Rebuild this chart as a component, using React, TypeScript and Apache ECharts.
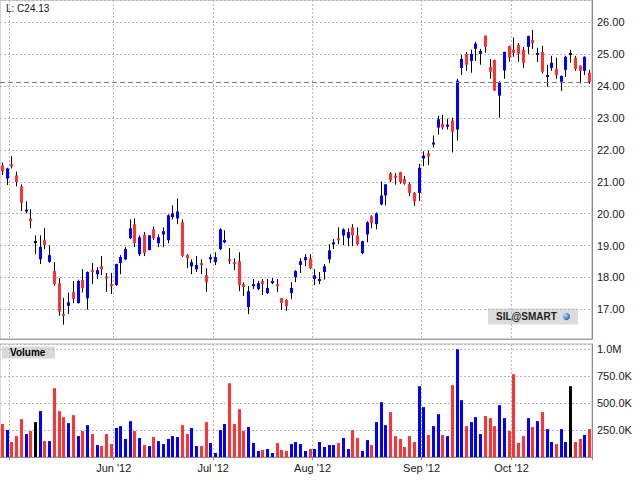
import React, { useEffect, useRef } from "react";
import * as echarts from "echarts";

// Trading days per month (Apr 27 2012 – Oct 23 2012)
const MONTH_DAYS: [string, number[]][] = [
  ["2012-04", [27, 30]],
  ["2012-05", [1, 2, 3, 4, 7, 8, 9, 10, 11, 14, 15, 16, 17, 18, 21, 22, 23, 24, 25, 29, 30, 31]],
  ["2012-06", [1, 4, 5, 6, 7, 8, 11, 12, 13, 14, 15, 18, 19, 20, 21, 22, 25, 26, 27, 28, 29]],
  ["2012-07", [2, 3, 5, 6, 9, 10, 11, 12, 13, 16, 17, 18, 19, 20, 23, 24, 25, 26, 27, 30, 31]],
  ["2012-08", [1, 2, 3, 6, 7, 8, 9, 10, 13, 14, 15, 16, 17, 20, 21, 22, 23, 24, 27, 28, 29, 30, 31]],
  ["2012-09", [4, 5, 6, 7, 10, 11, 12, 13, 14, 17, 18, 19, 20, 21, 24, 25, 26, 27, 28]],
  ["2012-10", [1, 2, 3, 4, 5, 8, 9, 10, 11, 12, 15, 16, 17, 18, 19, 22, 23]],
];

const OPEN = [
  21.51, 21.10, 21.55, 21.20, 20.86, 20.07, 19.85, 19.11, 18.57, 19.17,
  18.49, 18.20, 17.82, 16.86, 17.11, 17.54, 17.20, 17.92, 17.35, 18.23,
  18.10, 18.35, 18.03, 17.79, 17.76, 18.45, 18.57, 19.23, 19.67, 18.73,
  19.34, 18.86, 19.51, 19.07, 19.35, 19.17, 19.89, 19.85, 19.73, 18.70,
  18.35, 18.26, 18.45, 18.07, 18.57, 18.48, 18.89, 19.10, 18.57, 18.48,
  18.51, 17.79, 17.07, 17.73, 17.64, 17.89, 17.51, 17.82, 17.79, 17.35,
  17.29, 17.51, 18.01, 18.39, 18.54, 18.60, 17.95, 17.89, 18.17, 18.57,
  19.04, 19.23, 19.32, 19.23, 19.57, 19.32, 18.76, 19.35, 19.92, 19.67,
  20.29, 20.57, 21.27, 21.19, 21.30, 21.09, 20.93, 20.65, 20.65, 21.73,
  21.89, 22.17, 22.70, 22.82, 22.73, 22.92, 22.64, 24.57, 25.01, 24.79,
  25.17, 25.01, 25.58, 24.60, 24.82, 23.70, 24.49, 25.26, 25.14, 25.29,
  25.14, 25.23, 25.45, 24.98, 25.07, 24.29, 24.57, 24.54, 24.14, 24.51,
  25.01, 24.89, 24.64, 24.48, 24.42,
];
const HIGH = [
  21.60, 21.44, 21.80, 21.32, 20.92, 20.39, 20.14, 19.32, 19.32, 19.54,
  19.01, 18.48, 17.98, 17.36, 17.53, 17.89, 17.93, 18.26, 18.19, 18.45,
  18.32, 18.67, 18.14, 18.14, 18.43, 18.70, 18.95, 19.82, 19.85, 19.32,
  19.42, 19.33, 19.60, 19.35, 19.57, 19.98, 20.26, 20.48, 19.82, 18.73,
  18.57, 18.67, 18.57, 18.29, 18.73, 18.79, 19.54, 19.48, 18.92, 18.60,
  18.79, 17.85, 17.73, 17.95, 17.89, 17.95, 17.95, 17.98, 17.95, 17.36,
  17.32, 17.85, 18.23, 18.60, 18.73, 18.73, 18.26, 18.17, 18.42, 19.04,
  19.20, 19.57, 19.54, 19.54, 19.67, 19.57, 19.15, 19.76, 19.95, 20.04,
  21.01, 20.93, 21.30, 21.27, 21.31, 21.18, 20.99, 20.68, 21.56, 21.96,
  21.98, 22.45, 23.07, 23.10, 22.98, 23.01, 24.23, 24.98, 25.07, 25.14,
  25.39, 25.17, 25.59, 24.85, 24.83, 24.15, 25.08, 25.27, 25.52, 25.35,
  25.23, 25.58, 25.76, 25.20, 25.26, 24.67, 24.95, 24.89, 24.33, 24.95,
  25.14, 24.95, 24.65, 24.93, 24.51,
];
const LOW = [
  21.21, 20.90, 21.42, 20.86, 20.08, 20.01, 19.54, 18.73, 18.42, 18.89,
  18.46, 17.74, 16.80, 16.52, 16.85, 17.20, 17.18, 17.53, 16.99, 17.79,
  17.95, 18.07, 17.55, 17.48, 17.74, 18.10, 18.54, 19.20, 18.95, 18.67,
  18.67, 18.85, 19.17, 18.95, 18.95, 19.07, 19.82, 19.67, 18.64, 18.29,
  18.10, 18.17, 18.10, 17.55, 18.45, 18.39, 18.85, 19.07, 18.42, 18.23,
  17.57, 17.42, 16.85, 17.64, 17.60, 17.45, 17.48, 17.79, 17.54, 16.98,
  16.95, 17.32, 17.85, 18.14, 18.35, 18.26, 17.76, 17.79, 17.93, 18.45,
  18.89, 19.04, 19.01, 18.98, 18.98, 19.01, 18.73, 19.10, 19.54, 19.51,
  20.26, 20.26, 20.99, 20.91, 20.94, 20.91, 20.55, 20.24, 20.40, 21.49,
  21.52, 22.07, 22.48, 22.64, 22.64, 21.92, 22.29, 24.35, 24.48, 24.42,
  24.79, 24.67, 25.05, 24.23, 23.85, 23.01, 24.23, 24.76, 24.92, 24.76,
  24.57, 25.01, 25.17, 24.76, 24.39, 23.98, 24.48, 24.23, 23.85, 24.29,
  24.73, 24.48, 24.08, 24.35, 24.07,
];
const CLOSE = [
  21.33, 21.42, 21.48, 20.99, 20.34, 20.13, 19.76, 19.11, 18.96, 19.02,
  18.70, 17.79, 16.93, 16.80, 17.22, 17.33, 17.89, 17.67, 18.17, 18.17,
  18.23, 18.26, 17.97, 17.73, 18.42, 18.64, 18.89, 19.54, 19.08, 19.26,
  18.76, 19.32, 19.23, 19.26, 19.45, 19.95, 20.01, 20.07, 18.68, 18.60,
  18.48, 18.39, 18.39, 17.85, 18.64, 18.64, 19.51, 19.17, 18.51, 18.42,
  17.76, 17.70, 17.57, 17.79, 17.82, 17.79, 17.67, 17.89, 17.73, 17.20,
  17.10, 17.67, 18.20, 18.51, 18.64, 18.29, 18.07, 17.95, 18.35, 18.85,
  19.10, 19.17, 19.51, 19.42, 19.32, 19.04, 19.14, 19.73, 19.70, 20.01,
  20.57, 20.92, 21.04, 21.13, 20.99, 20.94, 20.65, 20.38, 21.44, 21.82,
  21.79, 22.23, 22.96, 22.70, 22.79, 22.57, 24.17, 24.85, 24.67, 25.01,
  25.33, 25.10, 25.23, 24.45, 23.86, 24.11, 25.07, 24.90, 25.04, 25.01,
  24.73, 25.57, 25.35, 25.04, 24.45, 24.35, 24.73, 24.35, 24.32, 24.92,
  25.01, 24.54, 24.48, 24.92, 24.13,
];
const VOLUME = [
  306000, 250000, 139000, 194000, 352000, 213000, 241000, 324000, 426000, 148000,
  148000, 639000, 426000, 370000, 315000, 389000, 194000, 241000, 296000, 213000,
  111000, 102000, 213000, 120000, 269000, 287000, 167000, 333000, 241000, 176000,
  111000, 102000, 185000, 148000, 120000, 167000, 194000, 185000, 296000, 213000,
  269000, 102000, 102000, 324000, 130000, 37000, 250000, 306000, 685000, 306000,
  444000, 241000, 278000, 130000, 56000, 65000, 74000, 37000, 130000, 65000,
  56000, 120000, 139000, 120000, 56000, 74000, 74000, 139000, 93000, 111000,
  111000, 130000, 176000, 74000, 250000, 176000, 56000, 157000, 111000, 324000,
  509000, 296000, 417000, 194000, 167000, 93000, 194000, 139000, 657000, 463000,
  204000, 287000, 398000, 204000, 194000, 667000, 1000000, 528000, 287000, 324000,
  370000, 213000, 380000, 361000, 287000, 481000, 361000, 241000, 769000, 130000,
  194000, 361000, 278000, 333000, 417000, 259000, 139000, 120000, 259000, 139000,
  657000, 139000, 167000, 204000, 259000,
];

const LAST_PRICE = 24.13;
const PRICE_TICKS = [17, 18, 19, 20, 21, 22, 23, 24, 25, 26];
const MONTH_NAMES = ["Jan", "Feb", "Mar", "Apr", "May", "Jun", "Jul", "Aug", "Sep", "Oct", "Nov", "Dec"];
const LABELED_MONTHS = ["2012-06", "2012-07", "2012-08", "2012-09", "2012-10"];

const DATES: string[] = [];
MONTH_DAYS.forEach(([m, days]) => days.forEach((d) => DATES.push(`${m}-${String(d).padStart(2, "0")}`)));

const BLUE = "#0000ff";
const RED = "#ff3333";
const BLACK = "#000000";

const colorOf = (i: number) => (CLOSE[i] > OPEN[i] ? BLUE : CLOSE[i] < OPEN[i] ? RED : BLACK);

const isMonthStart = (index: number) => index > 0 && DATES[index].slice(0, 7) !== DATES[index - 1].slice(0, 7);
const isLabeled = (index: number) => isMonthStart(index) && LABELED_MONTHS.includes(DATES[index].slice(0, 7));

const FONT = "'Liberation Sans', Arial, sans-serif";

export default function App() {
  const ref = useRef<HTMLDivElement>(null);
  useEffect(() => {
    if (!ref.current) return;
    const chart = echarts.init(ref.current, undefined, { renderer: "svg" });
    const candleData = DATES.map((_, i) => [i, OPEN[i], CLOSE[i], LOW[i], HIGH[i]]);
    const volData = DATES.map((_, i) => [i, VOLUME[i]]);
    const gridLine = { show: true, lineStyle: { color: "#b8b8b8", type: [2, 2] as number[], width: 1 } };
    const axisLineRight = { show: true, lineStyle: { color: "#8c8c8c", width: 1 } };

    const option: any = {
      animation: false,
      backgroundColor: "#ffffff",
      textStyle: { fontFamily: FONT },
      grid: [
        { left: 0, top: 0, width: 592, height: 339, show: true, borderColor: "#a8a8a8", borderWidth: 1 },
        { left: 0, top: 344, width: 592, height: 113, show: true, borderColor: "#b8b8b8", borderWidth: 1 },
      ],
      xAxis: [
        {
          type: "category",
          gridIndex: 0,
          data: DATES,
          boundaryGap: true,
          axisLine: { show: true, lineStyle: { color: "#a0a0a0" } },
          axisTick: { show: false },
          axisLabel: { show: false },
          splitLine: { ...gridLine, interval: (i: number) => isMonthStart(i) },
        },
        {
          type: "category",
          gridIndex: 1,
          data: DATES,
          boundaryGap: true,
          axisLine: { show: true, lineStyle: { color: "#8c8c8c", width: 1 } },
          axisTick: { show: true, length: 3, interval: (i: number) => isMonthStart(i), lineStyle: { color: "#8c8c8c" } },
          axisLabel: {
            show: true,
            interval: (i: number) => isLabeled(i),
            formatter: (v: string) => `${MONTH_NAMES[parseInt(v.slice(5, 7), 10) - 1]} '${v.slice(2, 4)}`,
            margin: 5,
            fontSize: 11,
            color: "#1a1a1a",
            fontFamily: FONT,
            padding: [0, 4.7, 0, 0],
          },
          splitLine: { ...gridLine, interval: (i: number) => isMonthStart(i) },
        },
      ],
      yAxis: [
        {
          type: "value",
          gridIndex: 0,
          position: "right",
          min: 16.07,
          max: 26.7,
          minInterval: 1,
          maxInterval: 1,
          axisLine: axisLineRight,
          axisTick: { show: false },
          axisLabel: {
            margin: 5,
            fontSize: 11,
            color: "#1a1a1a",
            fontFamily: FONT,
            formatter: (v: number) => (PRICE_TICKS.some((t) => Math.abs(t - v) < 1e-6) ? v.toFixed(2) : ""),
          },
          splitLine: gridLine,
        },
        {
          type: "value",
          gridIndex: 1,
          position: "right",
          min: 0,
          max: 1049000,
          interval: 250000,
          axisLine: axisLineRight,
          axisTick: { show: false },
          axisLabel: {
            margin: 5,
            fontSize: 11,
            color: "#1a1a1a",
            fontFamily: FONT,
            formatter: (v: number) => {
              if (v === 0 || v % 250000 !== 0) return "";
              return v >= 1e6 ? (v / 1e6).toFixed(1) + "M" : (v / 1e3).toFixed(1) + "K";
            },
          },
          splitLine: gridLine,
        },
      ],
      series: [
        {
          type: "custom",
          name: "price",
          xAxisIndex: 0,
          yAxisIndex: 0,
          data: candleData,
          encode: { x: 0, y: [1, 2, 3, 4] },
          renderItem: (params: any, api: any) => {
            const i = api.value(0);
            const o = api.value(1);
            const c = api.value(2);
            const l = api.value(3);
            const h = api.value(4);
            const pO = api.coord([i, o]);
            const pC = api.coord([i, c]);
            const pL = api.coord([i, l]);
            const pH = api.coord([i, h]);
            const left = Math.round(pO[0] - 1.5);
            const xc = left + 1.5;
            const top = Math.min(pO[1], pC[1]);
            const hgt = Math.max(2, Math.abs(pO[1] - pC[1]));
            const col = c > o ? BLUE : c < o ? RED : BLACK;
            return {
              type: "group",
              children: [
                { type: "line", shape: { x1: xc, y1: pH[1], x2: xc, y2: pL[1] }, style: { stroke: "#000", lineWidth: 1 } },
                { type: "rect", shape: { x: left, y: c === o ? top - 1 : top, width: 3, height: hgt }, style: { fill: col } },
              ],
            };
          },
          markLine: {
            silent: true,
            symbol: "none",
            label: { show: false },
            lineStyle: { color: "#7a7a7a", type: [5, 3], width: 1 },
            data: [{ yAxis: LAST_PRICE }],
          },
          z: 3,
        },
        {
          type: "custom",
          name: "volume",
          xAxisIndex: 1,
          yAxisIndex: 1,
          data: volData,
          encode: { x: 0, y: 1 },
          renderItem: (params: any, api: any) => {
            const i = api.value(0);
            const v = api.value(1);
            const p0 = api.coord([i, 0]);
            const p1 = api.coord([i, v]);
            const left = Math.round(p1[0] - 1.5);
            return {
              type: "rect",
              shape: { x: left, y: p1[1], width: 3, height: p0[1] - p1[1] },
              style: { fill: colorOf(i) },
            };
          },
          z: 3,
        },
      ],
      graphic: [
        {
          type: "text",
          left: 6,
          top: 3,
          style: { text: `L: C${LAST_PRICE.toFixed(2)}`, font: `10px ${FONT}`, fill: "#111" },
          z: 10,
        },
        {
          type: "group",
          z: 10,
          children: [
            { type: "rect", shape: { x: 2, y: 346.5, width: 53, height: 12 }, style: { fill: "#d9d9d9" } },
            {
              type: "text",
              x: 10,
              y: 352.8,
              style: { text: "Volume", font: `bold 10px ${FONT}`, fill: "#000", verticalAlign: "middle" },
            },
          ],
        },
        {
          type: "group",
          z: 10,
          children: [
            { type: "rect", shape: { x: 488, y: 308.5, width: 90, height: 16 }, style: { fill: "#dcdcdc" } },
            {
              type: "text",
              x: 496,
              y: 316.8,
              style: { text: "SIL@SMART", font: `bold 10px ${FONT}`, fill: "#222", verticalAlign: "middle" },
            },
            {
              type: "circle",
              shape: { cx: 566.5, cy: 316.5, r: 3.6 },
              style: {
                fill: new echarts.graphic.RadialGradient(0.35, 0.35, 0.8, [
                  { offset: 0, color: "#cfe3ff" },
                  { offset: 0.5, color: "#5a8fd6" },
                  { offset: 1, color: "#244f9a" },
                ]),
              },
            },
          ],
        },
      ],
    };
    chart.setOption(option);
    return () => chart.dispose();
  }, []);
  return <div ref={ref} style={{ position: "absolute", left: 0, top: 0, width: 640, height: 480 }} />;
}
